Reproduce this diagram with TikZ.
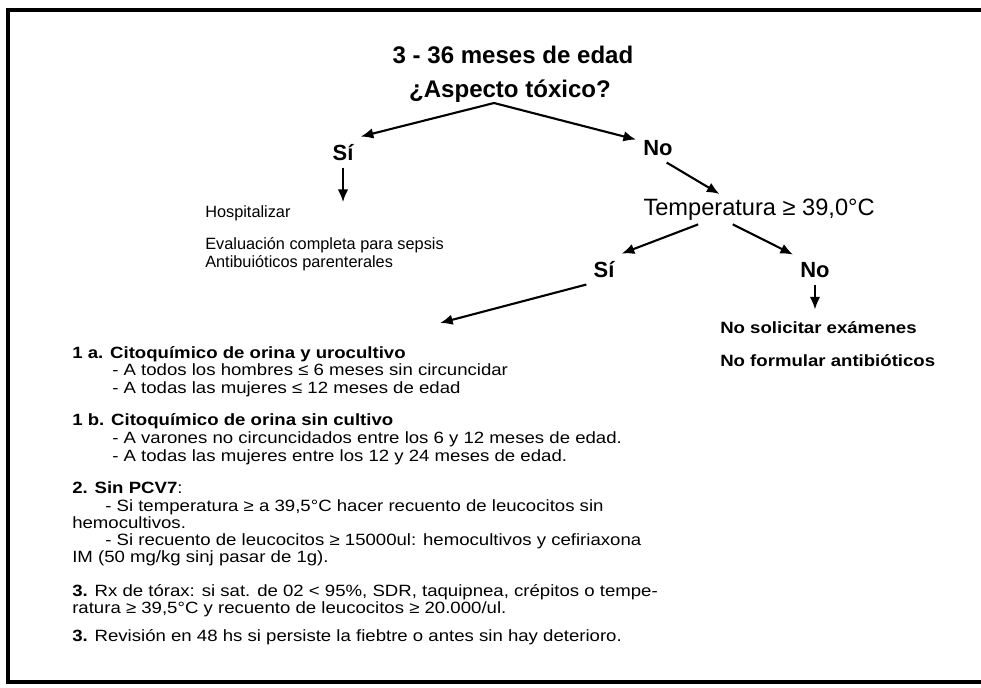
\documentclass[tikz,border=0pt]{standalone}
\usepackage{fontspec}
\setmainfont{Liberation Sans}
\newfontfamily\listfont[FakeStretch=1.14]{Liberation Sans}
\usepackage{tikz}
\usetikzlibrary{arrows.meta}
\tikzset{>={Latex[length=9pt,width=7.5pt]}}
\tikzstyle{flecha} = [->, line width=1.5pt]
\tikzstyle{titulo} = [draw=none, inner sep = 0, anchor=base, font=\bfseries\fontsize{17.1}{20}\selectfont]
\tikzstyle{rama} = [draw=none, inner sep = 5pt, anchor=base, font=\bfseries\fontsize{15.6}{18}\selectfont]
\tikzstyle{texto} = [draw=none, inner sep = 0, anchor=base west, font=\fontsize{11.6}{14}\selectfont]
\tikzstyle{lista} = [draw=none, inner sep = 0, anchor=base west, font=\listfont\fontsize{11.6}{14}\selectfont]

\begin{document}
\begin{tikzpicture}[x=0.025cm, y=-0.025cm]
\useasboundingbox (0,0) rectangle (981,687);
\draw [line width=3.2pt] (981,10) -- (8,10) -- (8,682) -- (981,682);

\node [titulo] (Ti) at (513,63) {3 - 36 meses de edad};
\node [titulo] (As) at (510,97) {¿Aspecto tóxico?};
\coordinate (P) at (494,103);
\node [rama] (S1) at (343,160) {Sí};
\node [rama] (N1) at (658,155) {No};
\node [draw=none, inner sep = 3pt, anchor=base west, font=\fontsize{16.8}{20}\selectfont] (Te) at (639,215) {Temperatura ≥ 39,0°C};
\node [rama] (S2) at (604,277) {Sí};
\node [rama] (N2) at (815,277) {No};

\node [texto] (Ho) at (205,217) {Hospitalizar};
\node [texto] (Ev) at (205,249) {Evaluación completa para sepsis};
\node [texto] (An) at (205,267) {Antibuióticos parenterales};
\node [lista] (Ns) at (720,333) {\textbf{No solicitar exámenes}};
\node [lista] (Nf) at (720,366) {\textbf{No formular antibióticos}};

% lista de examenes
\coordinate (U) at (440,323);
\node [lista] (L1) at (72,358) {\textbf{1 a. Citoquímico de orina y urocultivo}};
\node [lista] (L2) at (112,375) {- A todos los hombres ≤ 6 meses sin circuncidar};
\node [lista] (L3) at (112,393) {- A todas las mujeres ≤ 12 meses de edad};
\node [lista] (L4) at (72,425) {\textbf{1 b. Citoquímico de orina sin cultivo}};
\node [lista] (L5) at (112,443) {- A varones no circuncidados entre los 6 y 12 meses de edad.};
\node [lista] (L6) at (112,461) {- A todas las mujeres entre los 12 y 24 meses de edad.};
\node [lista] (L7) at (72,493) {\textbf{2. Sin PCV7}:};
\node [lista] (L8) at (105,511) {- Si temperatura ≥ a 39,5°C hacer recuento de leucocitos sin};
\node [lista] (L9) at (72,528) {hemocultivos.};
\node [lista] (L10) at (105,545) {- Si recuento de leucocitos ≥ 15000ul: hemocultivos y cefiriaxona};
\node [lista] (L11) at (72,562) {IM (50 mg/kg sinj pasar de 1g).};
\node [lista] (L12) at (72,596) {\textbf{3.} Rx de tórax: si sat. de 02 < 95\%, SDR, taquipnea, crépitos o tempe-};
\node [lista] (L13) at (72,613) {ratura ≥ 39,5°C y recuento de leucocitos ≥ 20.000/ul.};
\node [lista] (L14) at (72,641) {\textbf{3.} Revisión en 48 hs si persiste la fiebtre o antes sin hay deterioro.};

\draw [flecha] (P) to (S1.north east);
\draw [flecha] (P) to (N1.160);
\draw [flecha, shorten >=2pt] (S1.south) to (S1.south |- Ho.north);
\draw [flecha] (N1.-60) to (Te.159);
\draw [flecha] (Te.194) to (S2.north east);
\draw [flecha] (Te.210) to (N2.north west);
\draw [flecha] (S2.south west) to (U);
\draw [flecha, shorten >=8pt] (N2.south) to (N2.south |- Ns.north);
\end{tikzpicture}
\end{document}
